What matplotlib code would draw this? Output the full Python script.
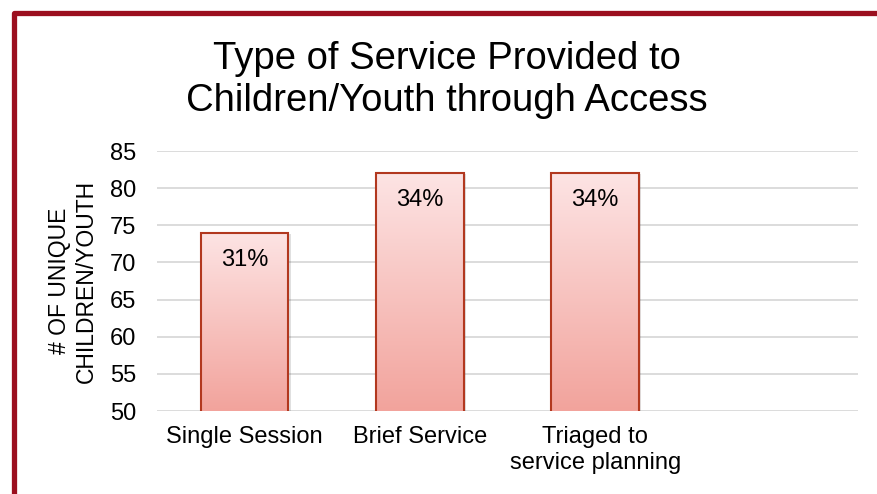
import matplotlib.pyplot as plt
import numpy as np
from matplotlib.lines import Line2D
from matplotlib.colors import LinearSegmentedColormap

plt.rcParams['font.family'] = ['Liberation Sans', 'DejaVu Sans']

# data
categories = ['Single Session', 'Brief Service', 'Triaged to\nservice planning', '']
counts = [74, 82, 82, np.nan]
percents = ['31%', '34%', '34%', '']
y_ticks = [50, 55, 60, 65, 70, 75, 80, 85]

fig = plt.figure(figsize=(8.77, 4.94), dpi=100)
ax = fig.add_axes([157 / 877, 1 - 411 / 494, 701 / 877, 260 / 494])

x = np.arange(len(categories))
bars = ax.bar(x, counts, width=0.5, bottom=0, facecolor='none',
              edgecolor='#b2381f', linewidth=1.5, zorder=3)

# vertical gradient fill, clipped to each bar
grad = np.linspace(0, 1, 256).reshape(-1, 1)
cmap = LinearSegmentedColormap.from_list('pinks', ['#f2a39c', '#fde4e4'])
for b, h in zip(bars, counts):
    if np.isnan(h):
        continue
    x0 = b.get_x()
    w = b.get_width()
    # soft shadow to the right
    ax.bar(x0 + w / 2 + 0.014, h - 0.15, width=w, bottom=0, color='#000000',
           alpha=0.12, linewidth=0, zorder=1)
    im = ax.imshow(grad, extent=[x0, x0 + w, 50, h], origin='lower',
                   cmap=cmap, aspect='auto', zorder=2)
    im.set_clip_path(b)

for b, h, p in zip(bars, counts, percents):
    if np.isnan(h):
        continue
    ax.annotate(p, (b.get_x() + b.get_width() / 2, h), xytext=(0, -27),
                textcoords='offset pixels', ha='center', va='center',
                fontsize=17, color='black', zorder=4)

ax.set_xlim(-0.5, len(categories) - 0.5)
ax.set_ylim(50, 85)
ax.set_yticks(y_ticks)
ax.set_xticks(x)
ax.set_xticklabels(categories)
ax.tick_params(axis='both', length=0, labelsize=17)
ax.tick_params(axis='x', pad=11)
ax.tick_params(axis='y', pad=15)
ax.grid(axis='y', color='#d9d9d9', linewidth=1.3, zorder=0)
ax.set_axisbelow(True)
for s in ax.spines.values():
    s.set_visible(False)

fig.text(73 / 877, 1 - 281 / 494, '# OF UNIQUE\nCHILDREN/YOUTH', rotation=90,
         ha='center', va='center', fontsize=16.5, multialignment='center')

fig.text(447 / 877, 1 - 80 / 494,
         'Type of Service Provided to\nChildren/Youth through Access',
         ha='center', va='center', fontsize=27.5, multialignment='center')

# dark red frame on the left and top
fig.add_artist(Line2D([13.5 / 877, 13.5 / 877, 1.01], [-0.01, 1 - 13.5 / 494, 1 - 13.5 / 494],
                      transform=fig.transFigure, color='#9b0f1f', linewidth=3.8,
                      solid_joinstyle='round'))

plt.savefig('out.png', dpi=100)
